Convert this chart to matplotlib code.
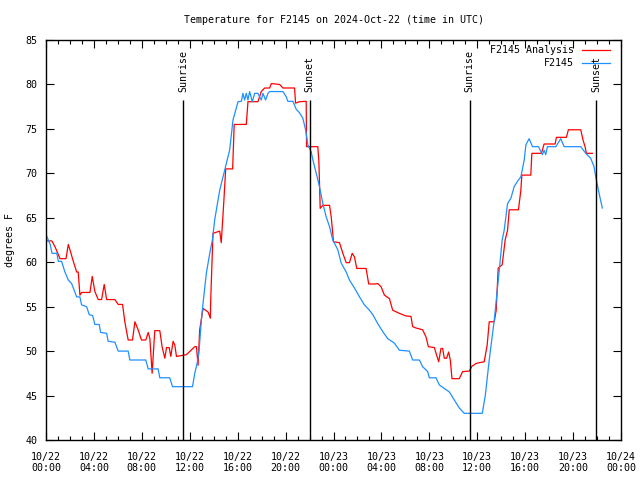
import pandas as pd
import matplotlib
matplotlib.use('Agg')
import matplotlib.pyplot as plt
import matplotlib.dates as mdates

start = pd.Timestamp('2024-10-22 00:00')

# hours since 10/22 00:00 UTC, temperature in F
obs_hours = [0.0, 0.35, 0.5, 0.9, 1.03, 1.3, 1.58, 1.86, 2.14, 2.56, 2.83, 2.97, 3.39, 3.61, 3.89,
             4.08, 4.44, 4.56, 5.06, 5.19, 5.75, 6.03, 6.86, 7.0, 8.33, 8.53, 9.36, 9.5, 10.33, 10.56,
             12.23, 12.42, 12.61, 12.78, 12.97, 13.11, 13.39, 13.67, 13.89, 14.08, 14.5, 14.92, 15.33,
             15.61, 16.03, 16.31, 16.44, 16.58, 16.72, 16.86, 17.0, 17.22, 17.42, 17.69, 17.83, 17.97,
             18.11, 18.33, 18.53, 18.67, 19.78, 20.06, 20.19, 20.61, 20.89, 21.17, 21.44, 21.67, 21.86,
             22.14, 22.28, 22.56, 22.83, 23.11, 23.39, 23.67, 23.94, 24.36, 24.64, 25.06, 25.33, 25.75,
             26.17, 26.58, 27.0, 27.28, 27.69, 28.11, 28.53, 29.08, 29.5, 30.33, 30.61, 31.17, 31.44,
             31.86, 32.0, 32.56, 32.83, 33.67, 34.08, 34.5, 34.92, 36.42, 36.67, 37.0, 37.42, 37.83,
             38.08, 38.25, 38.53, 38.81, 39.08, 39.36, 39.64, 39.92, 40.06, 40.33, 40.61, 41.11, 41.44,
             41.58, 41.72, 41.86, 42.56, 42.97, 43.25, 44.64, 45.06, 45.47, 45.75, 45.89, 46.17, 46.44]
obs_temp = [63.1, 62.0, 61.0, 61.0, 60.1, 60.1, 58.9, 58.0, 57.6, 56.1, 56.1, 55.2, 55.0, 54.1, 54.0,
            53.0, 53.0, 52.1, 52.0, 51.1, 51.0, 50.0, 50.0, 49.0, 49.0, 48.0, 48.0, 47.0, 47.0, 46.0,
            46.0, 47.5, 48.6, 50.1, 53.5, 55.4, 58.8, 61.0, 62.5, 64.75, 68.1, 70.4, 72.6,
            76.0, 78.06, 78.1, 79.0, 78.25, 79.0, 78.25, 79.2, 78.06, 79.0, 79.0, 78.6, 78.25,
            79.0, 78.25, 79.0, 79.2, 79.2, 78.6, 78.1, 78.1, 77.2, 76.8, 76.2, 74.9, 73.2,
            72.4, 71.5, 70.0, 68.5, 66.6, 65.1, 64.0, 62.5, 61.4, 59.9, 58.9, 58.0, 57.1,
            56.1, 55.2, 54.6, 54.1, 53.1, 52.2, 51.4, 50.9, 50.1, 50.0, 49.0, 49.0, 48.25,
            47.7, 47.0, 47.0, 46.2, 45.4, 44.5, 43.6, 43.0, 43.0, 45.0, 49.0, 53.5, 59.0,
            62.5, 63.6, 66.6, 67.2, 68.5, 69.1, 69.6, 71.5, 73.2, 73.9, 73.0, 73.0, 72.1,
            72.6, 72.1, 73.0, 73.0, 73.9, 73.0, 73.0, 72.25, 71.7, 70.75, 69.6, 67.75, 66.1]

ana_hours = [0.0, 0.48, 0.75, 1.17, 1.67, 1.86, 2.0, 2.28, 2.56, 2.69, 2.83, 2.97, 3.67, 3.86, 4.08,
             4.36, 4.64, 4.86, 5.06, 5.75, 6.03, 6.39, 6.58, 6.86, 7.22, 7.42, 7.69, 7.97, 8.33, 8.53,
             8.67, 8.86, 9.08, 9.5, 9.69, 9.92, 10.06, 10.28, 10.42, 10.61, 10.75, 10.89, 11.72, 12.42,
             12.56, 12.69, 12.83, 13.11, 13.53, 13.67, 13.72, 13.75, 13.86, 13.94, 14.5, 14.63, 14.83,
             15.0, 15.58, 15.71, 16.72, 16.86, 17.69, 17.97, 18.25, 18.67, 18.81, 19.5, 19.78, 20.75,
             20.83, 21.17, 21.72, 21.75, 22.69, 22.78, 22.89, 23.11, 23.67, 23.81, 24.0, 24.5, 24.78,
             25.06, 25.33, 25.56, 25.75, 25.94, 26.72, 26.94, 27.42, 27.69, 27.97, 28.25, 28.67, 28.94,
             29.5, 30.06, 30.47, 30.61, 30.89, 31.44, 31.72, 31.92, 32.42, 32.56, 32.78, 32.97, 33.11,
             33.25, 33.44, 33.61, 33.75, 33.89, 34.5, 34.78, 35.33, 35.56, 35.89, 36.17, 36.58, 36.83,
             37.0, 37.42, 37.58, 37.75, 38.08, 38.33, 38.53, 38.67, 39.44, 39.64, 39.72, 40.47, 40.56,
             41.31, 41.39, 41.58, 42.5, 42.61, 43.44, 43.61, 44.64, 44.83, 45.0, 45.11, 45.61]
ana_temp = [62.4, 62.4, 61.75, 60.4, 60.4, 62.0, 61.4, 60.1, 58.9, 58.9, 56.3, 56.6, 56.6, 58.4, 56.7,
            55.8, 55.8, 57.5, 55.8, 55.8, 55.25, 55.25, 53.3, 51.25, 51.25, 53.3, 52.4, 51.25, 51.25, 52.1,
            51.4, 47.5, 52.3, 52.3, 50.5, 49.2, 50.4, 50.4, 49.4, 51.1, 50.7, 49.4, 49.6, 50.5,
            50.5, 48.4, 52.4, 54.8, 54.4, 53.9, 53.7, 55.75, 59.9, 63.25, 63.5, 62.2, 66.5,
            70.5, 70.5, 75.5, 75.5, 78.06, 78.06, 79.2, 79.6, 79.6, 80.1, 80.0, 79.6, 79.6,
            77.9, 78.06, 78.1, 73.0, 73.0, 71.3, 66.06, 66.4, 66.4, 65.1, 62.3, 62.2, 61.0,
            59.95, 59.95, 61.0, 60.6, 59.3, 59.3, 57.55, 57.55, 57.6, 57.25, 56.3, 55.9, 54.6,
            54.25, 53.95, 53.9, 52.75, 52.6, 52.4, 51.6, 50.5, 50.4, 49.75, 48.8, 50.3, 50.3,
            49.2, 49.2, 49.9, 49.0, 46.9, 46.9, 47.7, 47.75, 48.3, 48.6, 48.7, 48.8, 50.7,
            53.3, 53.3, 54.6, 59.35, 59.7, 62.5, 63.6, 65.9, 65.9, 68.1, 69.8, 69.8, 72.25,
            72.25, 72.4, 73.3, 73.3, 74.05, 74.05, 74.9, 74.9, 73.75, 73.0, 72.25, 72.25]

sun_hours = [11.43, 22.0, 35.38, 45.94]
sun_labels = ['Sunrise', 'Sunset', 'Sunrise', 'Sunset']

obs_t = start + pd.to_timedelta(obs_hours, unit='h')
ana_t = start + pd.to_timedelta(ana_hours, unit='h')
sun_t = start + pd.to_timedelta(sun_hours, unit='h')

font = 'DejaVu Sans Mono'
fs = 7.2
plt.rcParams['font.family'] = font
plt.rcParams['font.size'] = fs

fig = plt.figure(figsize=(6.4, 4.8), dpi=100)
ax = fig.add_axes([46 / 640, 40 / 480, 575 / 640, 400 / 480])

ax.plot(ana_t, ana_temp, color='#ff0000', lw=0.9)
ax.plot(obs_t, obs_temp, color='#1e90ff', lw=0.9)

for t, lab in zip(sun_t, sun_labels):
    ax.vlines(t, 40, 78.25, color='black', lw=1)
    ax.text(t, 79.2, lab, rotation=90, ha='center', va='bottom', fontsize=fs)

ax.set_xlim(start, start + pd.Timedelta(hours=48))
ax.set_ylim(40, 85)
ax.set_yticks(range(40, 86, 5))
ax.xaxis.set_major_locator(mdates.HourLocator(byhour=range(0, 24, 4)))
ax.xaxis.set_minor_locator(mdates.HourLocator())
ax.xaxis.set_major_formatter(mdates.DateFormatter('%m/%d\n%H:%M'))
ax.tick_params(which='both', direction='in', top=True, right=True, width=0.8)
ax.tick_params(which='major', length=6, pad=6, labelsize=fs)
ax.tick_params(which='minor', length=3)
ax.tick_params(axis='x', pad=8.5)
for s in ax.spines.values():
    s.set_linewidth(1)

# legend, gnuplot style (text right aligned, sample to the right)
ax.text(0.918, 0.975, 'F2145 Analysis', transform=ax.transAxes, ha='right', va='center', fontsize=fs)
ax.text(0.918, 0.9425, 'F2145', transform=ax.transAxes, ha='right', va='center', fontsize=fs)
ax.plot([0.932, 0.981], [0.975, 0.975], transform=ax.transAxes, color='#ff0000', lw=0.9)
ax.plot([0.932, 0.981], [0.9425, 0.9425], transform=ax.transAxes, color='#1e90ff', lw=0.9)

fig.text(333.5 / 640, 1 - 20 / 480, 'Temperature for F2145 on 2024-Oct-22 (time in UTC)',
         ha='center', va='center', fontsize=fs)
fig.text(10 / 640, 0.5, 'degrees F', rotation=90, ha='center', va='center', fontsize=fs)

fig.savefig('out.png', dpi=100)
